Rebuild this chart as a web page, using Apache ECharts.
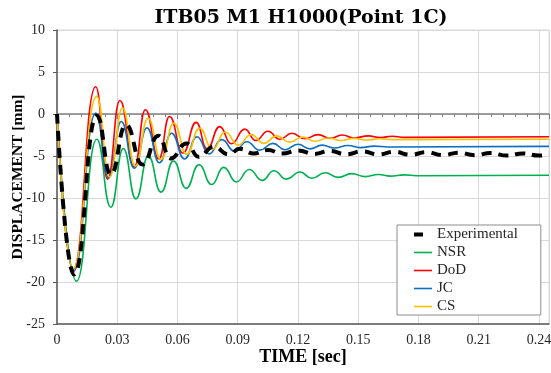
<!DOCTYPE html>
<html>
<head>
<meta charset="utf-8">
<script src="https://cdn.jsdelivr.net/npm/echarts@6/dist/echarts.min.js"></script>
<style>
html, body { margin: 0; padding: 0; background: #ffffff; }
#chart { width: 551px; height: 373px; }
</style>
</head>
<body>
<div id="chart"></div>
<script>
// Displacement history at Point 1C: [time (s), displacement (mm)] at turning points
const experimental = [
  [0, 0], [0.0085, -19.1], [0.0198, -0.2], [0.0268, -7.2], [0.0343, -1.3],
  [0.0425, -6.0], [0.0505, -2.6], [0.0565, -5.3], [0.0645, -3.5], [0.0705, -5.1],
  [0.078, -3.9], [0.0855, -4.8], [0.091, -4.15], [0.098, -4.7], [0.105, -4.3],
  [0.112, -4.7], [0.12, -4.35], [0.128, -4.75], [0.136, -4.4], [0.144, -4.8],
  [0.152, -4.45], [0.16, -4.8], [0.168, -4.5], [0.176, -4.85], [0.184, -4.55],
  [0.192, -4.9], [0.2, -4.6], [0.208, -4.9], [0.216, -4.65], [0.224, -4.95],
  [0.232, -4.7], [0.24, -4.95], [0.245, -4.8]
];
const nsr = [
  [0, 0], [0.0097, -19.9], [0.0198, -3.0], [0.0268, -11.1], [0.033, -4.1],
  [0.0393, -10.1], [0.0455, -5.0], [0.0518, -9.3], [0.058, -5.6], [0.0643, -8.85],
  [0.0707, -6.05], [0.077, -8.4], [0.083, -6.35], [0.0893, -8.1], [0.0957, -6.6],
  [0.1022, -7.9], [0.108, -6.75], [0.1143, -7.75], [0.121, -6.9], [0.1268, -7.65],
  [0.1335, -7.0], [0.14, -7.55], [0.1468, -7.1], [0.1535, -7.45], [0.16, -7.2],
  [0.166, -7.4], [0.173, -7.25], [0.179, -7.35], [0.245, -7.3]
];
const dod = [
  [0, 0], [0.008, -18.5], [0.0193, 3.25], [0.0252, -7.75], [0.0313, 1.6],
  [0.0385, -6.3], [0.044, 0.5], [0.0507, -5.35], [0.056, -0.3], [0.0627, -4.65],
  [0.0693, -1.0], [0.0747, -4.15], [0.081, -1.5], [0.0868, -3.55], [0.0935, -1.8],
  [0.099, -3.15], [0.105, -2.05], [0.111, -3.0], [0.117, -2.3], [0.1235, -2.95],
  [0.13, -2.45], [0.136, -2.9], [0.142, -2.5], [0.148, -2.85], [0.155, -2.6],
  [0.161, -2.8], [0.167, -2.65], [0.173, -2.78], [0.245, -2.7]
];
const jc = [
  [0, 0], [0.0083, -18.7], [0.0193, 0.1], [0.0257, -7.6], [0.032, -0.9],
  [0.0385, -6.45], [0.0448, -1.65], [0.051, -5.8], [0.057, -2.3], [0.0635, -5.35],
  [0.0697, -2.7], [0.0757, -4.75], [0.082, -3.05], [0.0885, -4.45], [0.0945, -3.3],
  [0.101, -4.3], [0.1075, -3.5], [0.1135, -4.25], [0.12, -3.6], [0.126, -4.15],
  [0.132, -3.7], [0.138, -4.05], [0.145, -3.75], [0.151, -4.0], [0.158, -3.82],
  [0.165, -3.92], [0.245, -3.85]
];
const cs = [
  [0, 0], [0.008, -18.4], [0.0198, 2.1], [0.0262, -7.5], [0.0326, 0.7],
  [0.039, -6.2], [0.0454, -0.5], [0.0518, -5.4], [0.0582, -1.1], [0.0646, -4.8],
  [0.071, -1.7], [0.0774, -4.2], [0.0838, -2.15], [0.0902, -3.7], [0.0966, -2.45],
  [0.103, -3.5], [0.1094, -2.6], [0.1158, -3.35], [0.1222, -2.75], [0.1286, -3.25],
  [0.135, -2.85], [0.1414, -3.15], [0.1478, -2.9], [0.1542, -3.1], [0.1606, -2.95],
  [0.167, -3.05], [0.245, -3.0]
];

const seriesNames = ['Experimental', 'NSR', 'DoD', 'JC', 'CS'];
const seriesColors = ['#000000', '#00B050', '#FF0000', '#0B6FC6', '#FFC000'];
const seriesData = [experimental, nsr, dod, jc, cs];

const timeRange = [0, 0.245];
const timeStep = 0.03;
const dispRange = [-25, 10];
const dispStep = 5;

const serif = "'Liberation Serif', 'DejaVu Serif', serif";
const titleFont = "'DejaVu Serif', 'Liberation Serif', serif";
const textColor = '#262626';
const gridColor = '#d9d9d9';
const axisColor = '#595959';

const chart = echarts.init(document.getElementById('chart'), null, { renderer: 'canvas' });

const series = seriesNames.map(function (name, i) {
  const isExp = i === 0;
  return {
    name: name,
    type: 'line',
    data: seriesData[i],
    symbol: 'none',
    showSymbol: false,
    smooth: 0.5,
    smoothMonotone: 'x',
    z: isExp ? 5 : 3,
    color: seriesColors[i],
    lineStyle: isExp
      ? { color: seriesColors[i], width: 4, type: [10, 7] }
      : { color: seriesColors[i], width: 1.6 }
  };
});

chart.setOption({
  animation: false,
  backgroundColor: '#ffffff',
  title: {
    text: 'ITB05 M1 H1000(Point 1C)',
    left: 301,
    top: 9,
    padding: 0,
    textAlign: 'center',
    textStyle: { fontFamily: titleFont, fontWeight: 'bold', fontSize: 19, color: '#000000' }
  },
  grid: {
    left: 57, right: 2, top: 30, bottom: 49,
    outerBoundsMode: 'none',
    show: true, borderColor: gridColor, borderWidth: 1, containLabel: false
  },
  legend: {
    orient: 'vertical',
    left: 397,
    top: 225,
    padding: [2, 23, 1, 15],
    itemGap: 3,
    itemWidth: 18,
    itemHeight: 14,
    backgroundColor: '#ffffff',
    borderColor: '#8c8c8c',
    borderWidth: 1,
    borderRadius: 0,
    itemStyle: { opacity: 0 },
    textStyle: { fontFamily: serif, fontSize: 15, color: textColor },
    data: seriesNames.map(function (name, i) {
      return i === 0
        ? { name: name, lineStyle: { type: [9, 30], width: 4 } }
        : { name: name, lineStyle: { width: 1.6 } };
    })
  },
  xAxis: [
    {
      type: 'value',
      min: timeRange[0], max: timeRange[1], interval: timeStep,
      position: 'bottom',
      name: 'TIME [sec]',
      nameLocation: 'middle',
      nameGap: 24,
      nameMoveOverlap: false,
      nameTextStyle: { fontFamily: serif, fontWeight: 'bold', fontSize: 18, color: '#000000' },
      axisLine: { show: true, onZero: false, lineStyle: { color: axisColor, width: 1.5 } },
      axisTick: { show: false },
      axisLabel: {
        color: textColor, fontFamily: serif, fontSize: 14, margin: 9,
        showMaxLabel: false,
        formatter: function (v) { return v === 0 ? '0' : v.toFixed(2); }
      },
      splitLine: { show: true, lineStyle: { color: gridColor, width: 1 } }
    },
    {
      // zero reference line carrying the time ticks
      type: 'value',
      min: timeRange[0], max: timeRange[1], interval: timeStep,
      position: 'bottom',
      axisLine: { show: true, onZero: true, lineStyle: { color: '#808080', width: 1.5 } },
      axisTick: { show: true, length: 5, lineStyle: { color: '#808080', width: 1 } },
      minorTick: { show: true, splitNumber: 5, length: 3, lineStyle: { color: '#808080', width: 1 } },
      axisLabel: { show: false },
      splitLine: { show: false }
    }
  ],
  yAxis: {
    type: 'value',
    min: dispRange[0], max: dispRange[1], interval: dispStep,
    name: 'DISPLACEMENT [mm]',
    nameLocation: 'middle',
    nameGap: 31,
    nameMoveOverlap: false,
    nameTextStyle: { fontFamily: serif, fontWeight: 'bold', fontSize: 15.5, color: '#000000' },
    axisLine: { show: true, onZero: false, lineStyle: { color: axisColor, width: 1.5 } },
    axisTick: { show: true, length: 4, lineStyle: { color: axisColor } },
    axisLabel: { color: textColor, fontFamily: serif, fontSize: 14, margin: 12 },
    splitLine: { show: true, lineStyle: { color: gridColor, width: 1 } }
  },
  series: series
});
</script>
</body>
</html>
